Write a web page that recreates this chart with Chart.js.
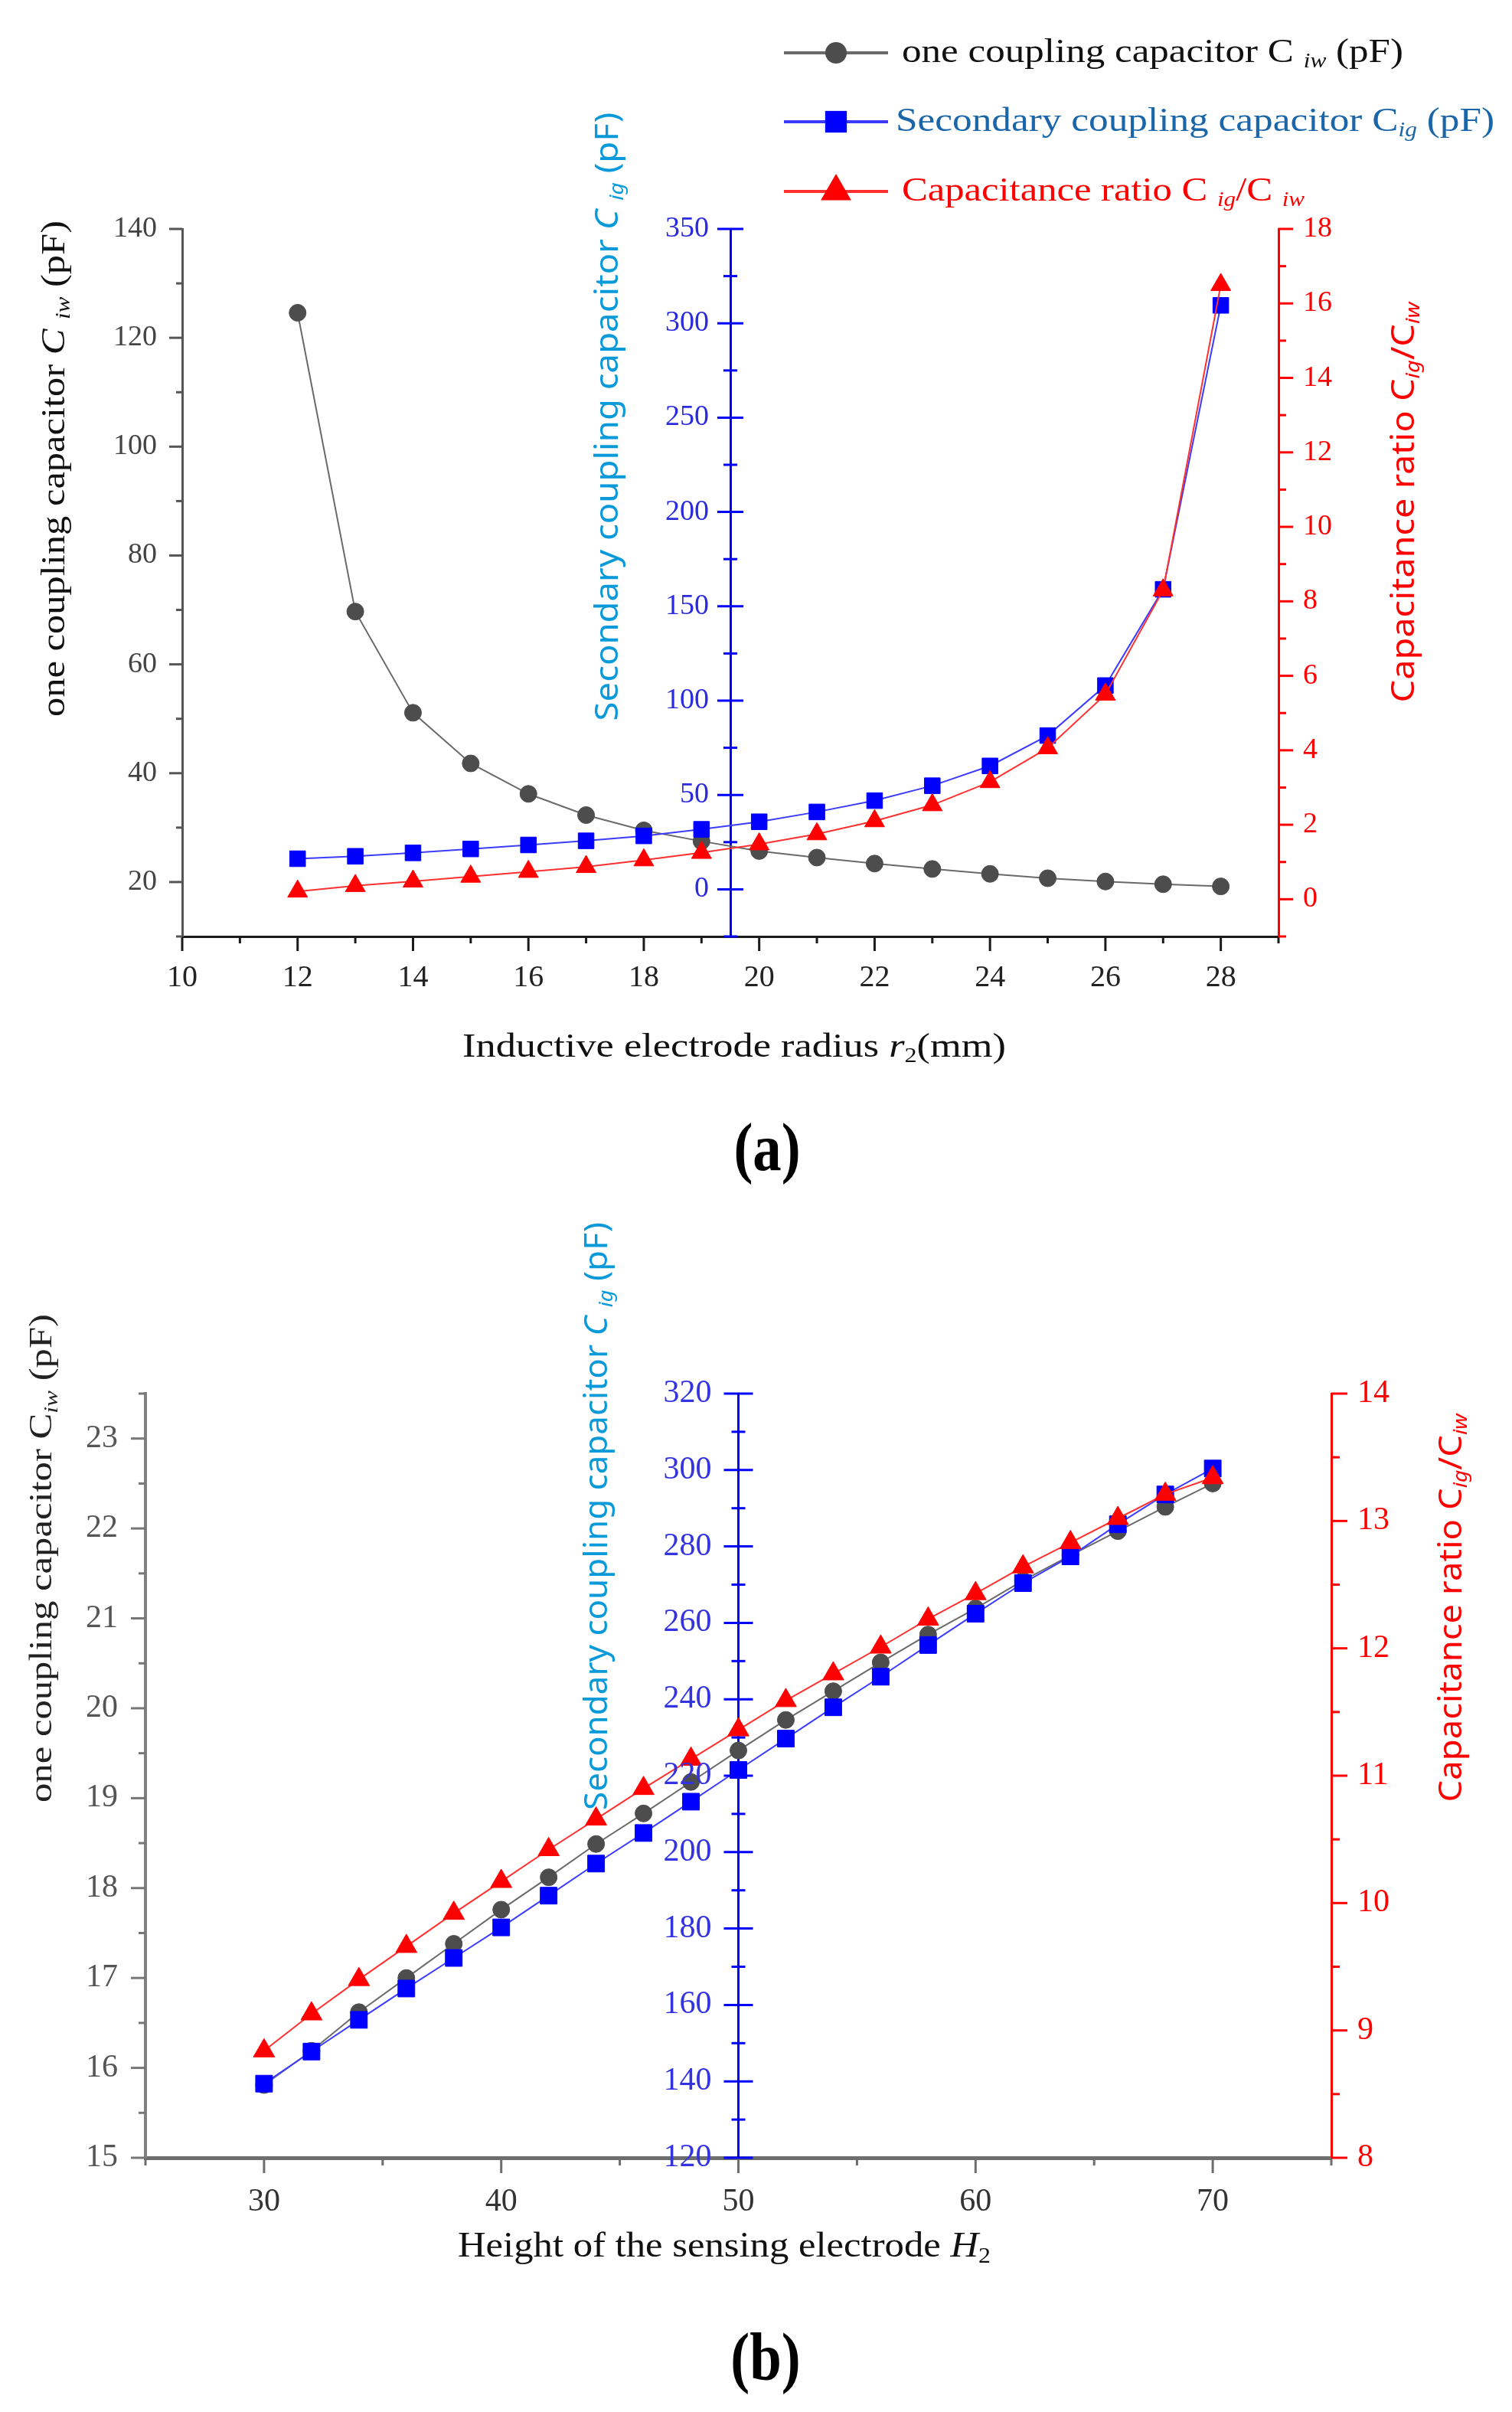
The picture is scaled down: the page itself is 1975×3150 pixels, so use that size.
<!DOCTYPE html>
<html>
<head>
<meta charset="utf-8">
<script src="https://cdn.jsdelivr.net/npm/chart.js@4.4.1/dist/chart.umd.min.js"></script>
<style>
html,body{margin:0;padding:0;background:#fff;}
body{width:1975px;height:3150px;position:relative;overflow:hidden;}
canvas{position:absolute;left:0;}
#ca{top:0;}
#cb{top:1500px;}
.lab{position:absolute;font-family:"Liberation Serif","DejaVu Serif",serif;font-weight:bold;font-size:88px;line-height:1;transform:translate(-50%,-50%) scaleX(0.85);color:#000;white-space:nowrap;}
</style>
</head>
<body>
<canvas id="ca" width="1975" height="1450"></canvas>
<canvas id="cb" width="1975" height="1500"></canvas>
<div class="lab" style="left:1002px;top:1499px;">(a)</div>
<div class="lab" style="left:1000px;top:3079px;">(b)</div>
<script>
// ---------------- DATA (a) ----------------
const radiusA = [12,13,14,15,16,17,18,19,20,21,22,23,24,25,26,27,28];
const cIwA    = [124.6,69.7,51.1,41.8,36.2,32.3,29.5,27.5,25.7,24.5,23.4,22.4,21.5,20.7,20.1,19.6,19.2];
const cIgA    = [16.2,17.5,19.3,21.4,23.5,25.7,28.3,31.8,35.8,41.0,47.0,54.9,65.4,81.5,108,159,309.5];
const ratioA  = [0.21,0.36,0.48,0.61,0.74,0.87,1.05,1.25,1.48,1.75,2.1,2.53,3.15,4.06,5.5,8.3,16.5];
const xTicksA     = [10,12,14,16,18,20,22,24,26,28];
const cIwTicksA   = [20,40,60,80,100,120,140];
const cIgTicksA   = [0,50,100,150,200,250,300,350];
const ratioTicksA = [0,2,4,6,8,10,12,14,16,18];

// ---------------- DATA (b) ----------------
const heightB = [30,32,34,36,38,40,42,44,46,48,50,52,54,56,58,60,62,64,66,68,70];
const cIwB    = [15.81,16.19,16.62,17.00,17.38,17.76,18.12,18.49,18.83,19.18,19.53,19.87,20.19,20.51,20.82,21.11,21.42,21.70,21.97,22.24,22.50];
const cIgB    = [139.4,147.8,156.1,164.3,172.3,180.3,188.6,197.0,205.0,213.2,221.5,229.7,237.9,245.9,254.2,262.4,270.4,277.4,285.8,293.6,300.4];
const ratioB  = [8.84,9.13,9.40,9.66,9.92,10.17,10.42,10.66,10.90,11.13,11.36,11.59,11.80,12.01,12.23,12.43,12.64,12.83,13.02,13.21,13.34];
const xTicksB     = [30,40,50,60,70];
const cIwTicksB   = [15,16,17,18,19,20,21,22,23];
const cIgTicksB   = [120,140,160,180,200,220,240,260,280,300,320];
const ratioTicksB = [8,9,10,11,12,13,14];

const SERIF = '"Liberation Serif","DejaVu Serif",serif';
const SANS = '"Noto Sans","Liberation Sans",sans-serif';

function pts(xs, ys){ return xs.map((x,i)=>({x:x, y:ys[i]})); }
function ds(label, xs, ys, axis, mark, line, style, r, order){
  return {label, data: pts(xs,ys), yAxisID: axis, borderColor: line, backgroundColor: mark,
    pointBackgroundColor: mark, pointBorderColor: mark, pointBorderWidth: 1,
    pointStyle: style, pointRadius: r, pointHoverRadius: r, borderWidth: 2, tension: 0, order};
}
function fixedTicks(arr){ return s => { s.ticks = arr.map(v => ({value: v})); }; }

function fontOf(p, size, fam){
  const sub = p[1].indexOf('s') >= 0;
  const sz = sub ? Math.round(size*0.62) : size;
  return (p[1].indexOf('i') >= 0 ? 'italic ' : '') + sz + 'px ' + fam;
}
function drawRich(ctx, t){
  ctx.save();
  ctx.textBaseline = 'middle';
  ctx.textAlign = 'left';
  let w = 0; const ws = [];
  for (const p of t.parts){ ctx.font = fontOf(p, t.size, t.fam); const m = ctx.measureText(p[0]).width; ws.push(m); w += m; }
  const sx = t.len ? t.len / w : 1;
  ctx.translate(t.cx, t.cy);
  if (t.vertical) ctx.rotate(-Math.PI/2);
  ctx.scale(sx, 1);
  ctx.fillStyle = t.color;
  let x = t.align === 'left' ? 0 : -w/2;
  t.parts.forEach((p,i) => {
    ctx.font = fontOf(p, t.size, t.fam);
    ctx.fillText(p[0], x, p[1].indexOf('s') >= 0 ? t.size*0.28 : 0);
    x += ws[i];
  });
  ctx.restore();
}
function drawMarker(ctx, style, r, x, y){
  ctx.beginPath();
  if (style === 'circle'){ ctx.arc(x, y, r, 0, Math.PI*2); }
  else if (style === 'rect'){ const h = r*Math.SQRT1_2; ctx.rect(x-h, y-h, 2*h, 2*h); }
  else if (style === 'triangle'){
    ctx.moveTo(x, y - r);
    ctx.lineTo(x + r*Math.sin(Math.PI/3), y + r*0.5);
    ctx.lineTo(x - r*Math.sin(Math.PI/3), y + r*0.5);
    ctx.closePath();
  }
  ctx.fill();
}

const deco = {
  id: 'deco',
  afterDraw(chart, args, opts){
    const ctx = chart.ctx, ca = chart.chartArea;
    for (const id of Object.keys(opts.ticks || {})){
      const t = opts.ticks[id];
      const s = chart.scales[id];
      ctx.save();
      ctx.strokeStyle = t.color; ctx.lineWidth = t.width; ctx.lineCap = 'butt';
      let ax = 0;
      if (t.mode === 'cross') ax = chart.scales.x.getPixelForValue(s.options.position.x);
      const n = Math.round((s.max - s.min) / t.minor);
      const start = Math.ceil(s.min / t.minor - 1e-9) * t.minor;
      for (let k = 0; k <= n + 1; k++){
        const v = Math.round((start + k*t.minor)*1e6)/1e6;
        if (v > s.max + 1e-9) break;
        const q = v / t.major;
        const maj = Math.abs(q - Math.round(q)) < 1e-6;
        const L = maj ? t.majLen : t.minLen;
        const p = s.getPixelForValue(v);
        ctx.beginPath();
        if (t.mode === 'down'){ ctx.moveTo(p, ca.bottom); ctx.lineTo(p, ca.bottom + L); }
        else if (t.mode === 'left'){ ctx.moveTo(ca.left - L, p); ctx.lineTo(ca.left, p); }
        else if (t.mode === 'right'){ ctx.moveTo(ca.right, p); ctx.lineTo(ca.right + L, p); }
        else { ctx.moveTo(ax - L, p); ctx.lineTo(ax + L, p); }
        ctx.stroke();
      }
      if (t.labels){
        ctx.fillStyle = t.labelColor;
        ctx.font = t.font + 'px ' + SERIF;
        ctx.textAlign = 'right'; ctx.textBaseline = 'middle';
        for (const v of t.labels){ ctx.fillText(String(v), ax - t.gap, s.getPixelForValue(v)); }
      }
      ctx.restore();
    }
    for (const tt of (opts.titles || [])) drawRich(ctx, tt);
    const lg = opts.legend;
    if (lg){
      lg.rows.forEach((row, i) => {
        const d = chart.data.datasets[i];
        ctx.save();
        ctx.strokeStyle = d.borderColor; ctx.lineWidth = lg.lineWidth;
        ctx.beginPath(); ctx.moveTo(lg.x1, row.y); ctx.lineTo(lg.x2, row.y); ctx.stroke();
        ctx.fillStyle = d.pointBackgroundColor;
        drawMarker(ctx, d.pointStyle, lg.radius[i], lg.mx, row.y);
        ctx.restore();
        drawRich(ctx, {parts: row.parts, cx: row.tx, cy: row.y, len: row.len, size: lg.size, color: row.color, fam: SERIF, align: 'left'});
      });
    }
  }
};

function yScale(opt){
  return Object.assign({type:'linear', grid:{display:false, drawTicks:false}}, opt);
}

// ---------------- CHART (a) ----------------
new Chart(document.getElementById('ca'), {
  type: 'line',
  data: { datasets: [
    ds('one coupling capacitor C iw (pF)', radiusA, cIwA, 'yL', '#4d4d4d', '#6a6a6a', 'circle', 11, 3),
    ds('Secondary coupling capacitor Cig (pF)', radiusA, cIgA, 'yB', '#0000ff', '#3c3cff', 'rect', 14.5, 2),
    ds('Capacitance ratio C ig/C iw', radiusA, ratioA, 'yR', '#ff0000', '#ff3030', 'triangle', 15, 1)
  ]},
  options: {
    responsive: false, animation: false,
    layout: {padding: {top: 299, left: 0, right: 0, bottom: 0}},
    plugins: {
      legend: {display: false}, tooltip: {enabled: false},
      deco: {
        ticks: {
          x:  {major: 2, minor: 1, majLen: 19, minLen: 9, mode: 'down', color: '#1a1a1a', width: 3},
          yL: {major: 20, minor: 10, majLen: 17, minLen: 8, mode: 'left', color: '#555', width: 3},
          yB: {major: 50, minor: 25, majLen: 17, minLen: 9, mode: 'cross', color: '#0000ff', width: 3,
               labels: cIgTicksA, gap: 28, font: 38, labelColor: '#2a2ae0'},
          yR: {major: 2, minor: 1, majLen: 19, minLen: 10, mode: 'right', color: '#ff0000', width: 3}
        },
        titles: [
          {parts: [['one coupling capacitor ',''],['C','i'],[' ',''],['iw','is'],[' (pF)','']], cx: 72, cy: 612, len: 648, size: 44, color: '#111', fam: SERIF, vertical: true},
          {parts: [['Secondary coupling capacitor ',''],['C','i'],[' ',''],['ig','is'],[' (pF)','']], cx: 795, cy: 544, len: 795, size: 42, color: '#0a9ad9', fam: SANS, vertical: true},
          {parts: [['Capacitance ratio ',''],['C',''],['ig','is'],['/C',''],['iw','is']], cx: 1835, cy: 656, len: 523, size: 42, color: '#ff0000', fam: SANS, vertical: true},
          {parts: [['Inductive electrode radius ',''],['r','i'],['2','s'],['(mm)','']], cx: 959, cy: 1368, len: 710, size: 44, color: '#111', fam: SERIF}
        ],
        legend: {
          x1: 1024, x2: 1160, mx: 1092, lineWidth: 4, size: 44, radius: [14, 20, 23],
          rows: [
            {y: 69, tx: 1178, len: 655, color: '#111', parts: [['one coupling capacitor ',''],['C',''],[' ',''],['iw','is'],[' (pF)','']]},
            {y: 159, tx: 1170, len: 782, color: '#1a66a8', parts: [['Secondary coupling capacitor C',''],['ig','is'],[' (pF)','']]},
            {y: 250, tx: 1178, len: 526, color: '#ff0000', parts: [['Capacitance ratio C ',''],['ig','is'],['/C ',''],['iw','is']]}
          ]
        }
      }
    },
    scales: {
      x: {type: 'linear', position: 'bottom', min: 10, max: 29,
          afterBuildTicks: fixedTicks(xTicksA), afterFit: s => { s.height = 227; },
          grid: {display: false, drawTicks: false}, border: {display: true, color: '#1a1a1a', width: 3},
          ticks: {padding: 30, color: '#222', font: {family: SERIF, size: 40}, maxRotation: 0, autoSkip: false}},
      yL: yScale({position: 'left', min: 10, max: 140,
          afterBuildTicks: fixedTicks(cIwTicksA), afterFit: s => { s.width = 238; },
          border: {display: true, color: '#555', width: 3},
          ticks: {padding: 33, color: '#444', font: {family: SERIF, size: 38}, autoSkip: false}}),
      yB: yScale({position: {x: 19.5}, min: -25, max: 350,
          border: {display: true, color: '#0000ff', width: 3},
          ticks: {display: false}}),
      yR: yScale({position: 'right', min: -1, max: 18,
          afterBuildTicks: fixedTicks(ratioTicksA), afterFit: s => { s.width = 305; },
          border: {display: true, color: '#ff0000', width: 3},
          ticks: {padding: 32, color: '#ff0000', font: {family: SERIF, size: 38}, autoSkip: false}})
    }
  },
  plugins: [deco]
});

// ---------------- CHART (b) ----------------
new Chart(document.getElementById('cb'), {
  type: 'line',
  data: { datasets: [
    ds('one coupling capacitor C iw (pF)', heightB, cIwB, 'yL', '#4d4d4d', '#6a6a6a', 'circle', 11, 3),
    ds('Secondary coupling capacitor Cig (pF)', heightB, cIgB, 'yB', '#0000ff', '#3c3cff', 'rect', 15.5, 2),
    ds('Capacitance ratio C ig/C iw', heightB, ratioB, 'yR', '#ff0000', '#ff3030', 'triangle', 16, 1)
  ]},
  options: {
    responsive: false, animation: false,
    layout: {padding: {top: 320, left: 0, right: 0, bottom: 0}},
    plugins: {
      legend: {display: false}, tooltip: {enabled: false},
      deco: {
        ticks: {
          x:  {major: 10, minor: 5, majLen: 20, minLen: 10, mode: 'down', color: '#6e6e6e', width: 3},
          yL: {major: 1, minor: 0.5, majLen: 19, minLen: 9, mode: 'left', color: '#777', width: 3},
          yB: {major: 20, minor: 10, majLen: 19, minLen: 9, mode: 'cross', color: '#0000ff', width: 3,
               labels: cIgTicksB, gap: 35, font: 42, labelColor: '#3333e0'},
          yR: {major: 1, minor: 0.5, majLen: 21, minLen: 11, mode: 'right', color: '#ff0000', width: 3}
        },
        titles: [
          {parts: [['one coupling capacitor C',''],['iw','is'],[' (pF)','']], cx: 56, cy: 535, len: 638, size: 42, color: '#222', fam: SERIF, vertical: true},
          {parts: [['Secondary coupling capacitor ',''],['C','i'],[' ',''],['ig','is'],[' (pF)','']], cx: 781, cy: 480, len: 768, size: 42, color: '#0a9ad9', fam: SANS, vertical: true},
          {parts: [['Capacitance ratio ',''],['C',''],['ig','is'],['/C',''],['iw','is']], cx: 1897, cy: 600, len: 507, size: 42, color: '#ff0000', fam: SANS, vertical: true},
          {parts: [['Height of the sensing electrode ',''],['H','i'],['2','s']], cx: 946, cy: 1435, len: 696, size: 46, color: '#111', fam: SERIF}
        ]
      }
    },
    scales: {
      x: {type: 'linear', position: 'bottom', min: 25, max: 75,
          afterBuildTicks: fixedTicks(xTicksB), afterFit: s => { s.height = 182; },
          grid: {display: false, drawTicks: false}, border: {display: true, color: '#6e6e6e', width: 5},
          ticks: {padding: 33, color: '#333', font: {family: SERIF, size: 42}, maxRotation: 0, autoSkip: false}},
      yL: yScale({position: 'left', min: 15, max: 23.5,
          afterBuildTicks: fixedTicks(cIwTicksB), afterFit: s => { s.width = 190; },
          border: {display: true, color: '#808080', width: 4},
          ticks: {padding: 36, color: '#555', font: {family: SERIF, size: 42}, autoSkip: false}}),
      yB: yScale({position: {x: 50}, min: 120, max: 320,
          border: {display: true, color: '#0000ff', width: 3},
          ticks: {display: false}}),
      yR: yScale({position: 'right', min: 8, max: 14,
          afterBuildTicks: fixedTicks(ratioTicksB), afterFit: s => { s.width = 236; },
          border: {display: true, color: '#ff0000', width: 3},
          ticks: {padding: 34, color: '#ff0000', font: {family: SERIF, size: 42}, autoSkip: false}})
    }
  },
  plugins: [deco]
});
</script>
</body>
</html>
